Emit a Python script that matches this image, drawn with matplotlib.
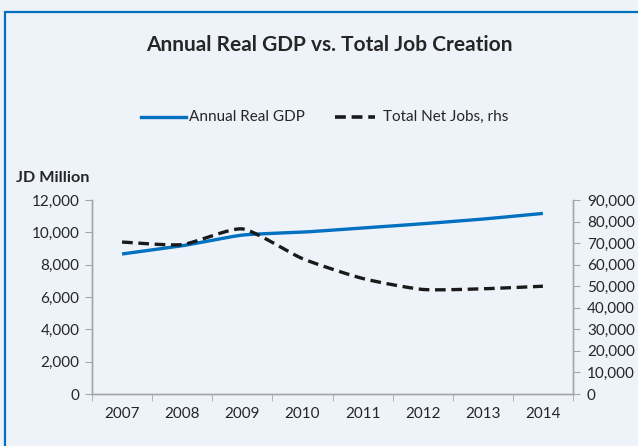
import numpy as np
import matplotlib
matplotlib.use("Agg")
import matplotlib.pyplot as plt
from matplotlib.patches import Rectangle
from matplotlib.ticker import FuncFormatter

# Annual real GDP (JD million) and total net jobs created
years = ["2007", "2008", "2009", "2010", "2011", "2012", "2013", "2014"]
gdp = [8660, 9170, 9830, 10010, 10270, 10530, 10820, 11170]
net_jobs = [70500, 69300, 76600, 62800, 53600, 48500, 48800, 50000]

plt.rcParams['font.family'] = ['Lato', 'DejaVu Sans']

BG = "#eef3fa"
BLUE = "#0070c0"
GREY = "#a6a6a6"
TEXT = "#262626"


def smooth(x, y, n=30):
    # Catmull-Rom curve through the points, similar to a spreadsheet "smoothed line"
    x = np.asarray(x, float)
    y = np.asarray(y, float)
    px = np.concatenate([[x[0]], x, [x[-1]]])
    py = np.concatenate([[y[0]], y, [y[-1]]])
    xs, ys = [], []
    t = np.linspace(0, 1, n, endpoint=False)
    for i in range(1, len(px) - 2):
        p0, p1, p2, p3 = [np.array([px[j], py[j]]) for j in (i - 1, i, i + 1, i + 2)]
        m1 = (p2 - p0) / 2 * 0.6
        m2 = (p3 - p1) / 2 * 0.6
        h00 = 2 * t**3 - 3 * t**2 + 1
        h10 = t**3 - 2 * t**2 + t
        h01 = -2 * t**3 + 3 * t**2
        h11 = t**3 - t**2
        pts = np.outer(h00, p1) + np.outer(h10, m1) + np.outer(h01, p2) + np.outer(h11, m2)
        xs.extend(pts[:, 0])
        ys.extend(pts[:, 1])
    xs.append(x[-1])
    ys.append(y[-1])
    return np.array(xs), np.array(ys)


fig = plt.figure(figsize=(6.38, 4.46), dpi=100, facecolor=BG)

# blue frame around the chart
fig.patches.append(Rectangle((5 / 638, -0.1), 1.2, 1 - 12 / 446 + 0.1,
                             transform=fig.transFigure, fill=False,
                             edgecolor=BLUE, linewidth=1.6))

ax = fig.add_axes([92 / 638, 1 - 394 / 446, (573 - 92) / 638, (394 - 200) / 446])
ax.set_facecolor(BG)
ax2 = ax.twinx()

x = np.arange(len(years))
sx, sy = smooth(x, gdp)
ax.plot(sx, sy, color=BLUE, linewidth=2.4, solid_capstyle='butt', zorder=3)
jx, jy = smooth(x, net_jobs)
ln, = ax2.plot(jx, jy, color="#1a1a1a", linewidth=2.4, zorder=3)
ln.set_dashes((3.2, 1.7))

ax.set_xlim(-0.5, len(years) - 0.5)
ax.set_ylim(0, 12000)
ax2.set_ylim(0, 90000)

ax.set_yticks(np.arange(0, 12001, 2000))
ax2.set_yticks(np.arange(0, 90001, 10000))
fmt = FuncFormatter(lambda v, p: f"{int(v):,}")
ax.yaxis.set_major_formatter(fmt)
ax2.yaxis.set_major_formatter(fmt)

ax.set_xticks(x)
ax.set_xticklabels(years)
ax.set_xticks(np.arange(-0.5, len(years), 1), minor=True)
ax.tick_params(axis='x', which='major', length=0, pad=9, labelsize=11, labelcolor=TEXT)
ax.tick_params(axis='x', which='minor', length=5, color=GREY, direction='out')
ax.tick_params(axis='y', length=5, color=GREY, labelsize=11, labelcolor=TEXT, pad=4)
ax2.tick_params(axis='y', length=5, color=GREY, labelsize=11, labelcolor=TEXT, pad=5)

for a in (ax, ax2):
    a.spines['top'].set_visible(False)
    for s in ('left', 'right', 'bottom'):
        a.spines[s].set_color(GREY)
        a.spines[s].set_linewidth(1.0)

fig.text(329 / 638, 1 - 45 / 446, "Annual Real GDP vs. Total Job Creation",
         ha='center', va='center', fontsize=15, fontweight='bold', color=TEXT)
fig.text(16 / 638, 1 - 178 / 446, "JD Million", ha='left', va='center',
         fontsize=11.7, fontweight='bold', color=TEXT)

# legend row
ly = 1 - 117 / 446
fig.add_artist(plt.Line2D([141 / 638, 186 / 638], [ly, ly], color=BLUE, linewidth=2.4,
                          transform=fig.transFigure))
fig.text(189 / 638, ly, "Annual Real GDP", ha='left', va='center', fontsize=11, color=TEXT)
dl = plt.Line2D([335 / 638, 375 / 638], [ly, ly], color="#1a1a1a", linewidth=2.6,
                transform=fig.transFigure)
dl.set_dashes((3.0, 1.6))
fig.add_artist(dl)
fig.text(383 / 638, ly, "Total Net Jobs, rhs", ha='left', va='center', fontsize=11, color=TEXT)

fig.savefig("out.png", dpi=100, facecolor=BG)
